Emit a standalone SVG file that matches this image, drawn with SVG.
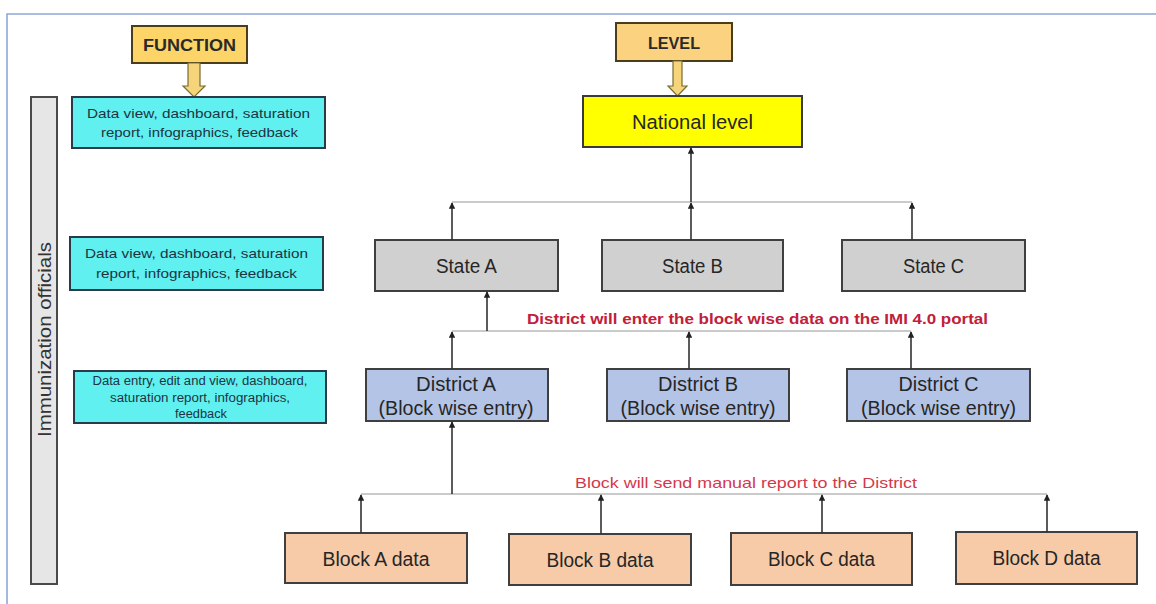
<svg xmlns="http://www.w3.org/2000/svg" width="1156" height="604" viewBox="0 0 1156 604">
<style>
text{font-family:"Liberation Sans",Arial,sans-serif;}
.hdr{fill:#FCD467;stroke:#4a3e1a;stroke-width:2;}
.hdrt{font-size:17px;font-weight:bold;fill:#2a2a2a;text-anchor:middle;}
.fn{fill:#60F0F0;stroke:#2a3a48;stroke-width:2;}
.fnt{font-size:13px;fill:#1e3442;text-anchor:middle;}
.fnts{font-size:12px;fill:#1e3442;text-anchor:middle;}
.nat{fill:#FFFF00;stroke:#3a3a3a;stroke-width:2;}
.st{fill:#D0D0D0;stroke:#3f3f3f;stroke-width:2;}
.di{fill:#B4C4E6;stroke:#3f3f3f;stroke-width:2;}
.bl{fill:#F8CBA8;stroke:#3f3f3f;stroke-width:2;}
.nt{font-size:19.5px;fill:#262626;text-anchor:middle;}
.stem{stroke:#333;stroke-width:1.6;fill:none;marker-end:url(#ah);}
.hl{stroke:#b8b8b8;stroke-width:1.6;fill:none;}
.barrow{fill:#F5D47A;stroke:#7a6a30;stroke-width:1.2;}
</style>
<defs>
<marker id="ah" viewBox="0 0 10 10" refX="9" refY="5" markerWidth="4" markerHeight="4" orient="auto" markerUnits="strokeWidth">
<path d="M0,0 L10,5 L0,10 z" fill="#222"/>
</marker>
</defs>
<rect width="1156" height="604" fill="#ffffff"/>
<path d="M7,604 V14 H1156" fill="none" stroke="#8ea6d6" stroke-width="1.6"/>

<g id="function-header">
<rect class="hdr" x="132" y="26" width="115" height="37"/>
<text class="hdrt" x="189.5" y="50.5" textLength="93" lengthAdjust="spacingAndGlyphs">FUNCTION</text>
<path class="barrow" d="M188,63 H200 V86 H205 L194,97 L183,86 H188 Z"/>
</g>

<g id="level-header">
<rect class="hdr" x="616" y="23" width="116" height="38" style="fill:#FBD27F"/>
<text class="hdrt" x="674" y="48.5" textLength="52" lengthAdjust="spacingAndGlyphs">LEVEL</text>
<path class="barrow" d="M673,61 H682 V86 H687 L677.5,96 L668,86 H673 Z"/>
</g>

<g id="immunization-officials">
<rect x="31" y="97" width="26" height="487" fill="#E6E6E6" stroke="#4a4a4a" stroke-width="2"/>
<text transform="translate(51,339.5) rotate(-90)" font-size="18" fill="#333" text-anchor="middle" textLength="195" lengthAdjust="spacingAndGlyphs">Immunization officials</text>
</g>

<g id="function-national">
<rect class="fn" x="72" y="97" width="253" height="51"/>
<text class="fnt" x="198.5" y="118" textLength="223" lengthAdjust="spacingAndGlyphs">Data view, dashboard, saturation</text>
<text class="fnt" x="199.5" y="137" textLength="197" lengthAdjust="spacingAndGlyphs">report, infographics, feedback</text>
</g>

<g id="function-state">
<rect class="fn" x="70" y="237" width="253" height="53"/>
<text class="fnt" x="196.5" y="258" textLength="223" lengthAdjust="spacingAndGlyphs">Data view, dashboard, saturation</text>
<text class="fnt" x="196.5" y="278" textLength="201" lengthAdjust="spacingAndGlyphs">report, infographics, feedback</text>
</g>

<g id="function-district">
<rect class="fn" x="74" y="371" width="252" height="52"/>
<text class="fnts" x="200" y="385" textLength="215" lengthAdjust="spacingAndGlyphs">Data entry, edit and view, dashboard,</text>
<text class="fnts" x="200" y="402" textLength="180" lengthAdjust="spacingAndGlyphs">saturation report, infographics,</text>
<text class="fnts" x="201" y="418" textLength="52" lengthAdjust="spacingAndGlyphs">feedback</text>
</g>

<g id="national">
<rect class="nat" x="583" y="96" width="219" height="51"/>
<text class="nt" x="692.5" y="129" style="font-size:20.5px" textLength="121" lengthAdjust="spacingAndGlyphs">National level</text>
</g>

<g id="state-a">
<rect class="st" x="375" y="240" width="183" height="51"/>
<text class="nt" x="466.5" y="273" textLength="61" lengthAdjust="spacingAndGlyphs">State A</text>
</g>
<g id="state-b">
<rect class="st" x="602" y="240" width="181" height="51"/>
<text class="nt" x="692.5" y="273" textLength="61" lengthAdjust="spacingAndGlyphs">State B</text>
</g>
<g id="state-c">
<rect class="st" x="842" y="240" width="183" height="51"/>
<text class="nt" x="933.5" y="273" textLength="61" lengthAdjust="spacingAndGlyphs">State C</text>
</g>

<g id="district-a">
<rect class="di" x="366" y="369" width="182" height="52"/>
<text class="nt" x="456" y="391" textLength="80" lengthAdjust="spacingAndGlyphs">District A</text>
<text class="nt" x="456" y="415" textLength="155" lengthAdjust="spacingAndGlyphs">(Block wise entry)</text>
</g>
<g id="district-b">
<rect class="di" x="607" y="369" width="182" height="52"/>
<text class="nt" x="698" y="391" textLength="80" lengthAdjust="spacingAndGlyphs">District B</text>
<text class="nt" x="698" y="415" textLength="155" lengthAdjust="spacingAndGlyphs">(Block wise entry)</text>
</g>
<g id="district-c">
<rect class="di" x="847" y="369" width="183" height="52"/>
<text class="nt" x="938.5" y="391" textLength="80" lengthAdjust="spacingAndGlyphs">District C</text>
<text class="nt" x="938.5" y="415" textLength="155" lengthAdjust="spacingAndGlyphs">(Block wise entry)</text>
</g>

<g id="block-a">
<rect class="bl" x="285" y="533" width="182" height="50"/>
<text class="nt" x="376" y="565.5" textLength="107" lengthAdjust="spacingAndGlyphs">Block A data</text>
</g>
<g id="block-b">
<rect class="bl" x="509" y="534" width="182" height="51"/>
<text class="nt" x="600" y="566.5" textLength="107" lengthAdjust="spacingAndGlyphs">Block B data</text>
</g>
<g id="block-c">
<rect class="bl" x="731" y="533" width="181" height="52"/>
<text class="nt" x="821.5" y="565.5" textLength="107" lengthAdjust="spacingAndGlyphs">Block C data</text>
</g>
<g id="block-d">
<rect class="bl" x="956" y="532" width="181" height="52"/>
<text class="nt" x="1046.5" y="564.5" textLength="108" lengthAdjust="spacingAndGlyphs">Block D data</text>
</g>

<g id="connectors">
<line class="hl" x1="452" y1="202" x2="912" y2="202"/>
<line class="stem" x1="691" y1="202" x2="691" y2="148"/>
<line class="stem" x1="452" y1="240" x2="452" y2="203"/>
<line class="stem" x1="691" y1="240" x2="691" y2="203"/>
<line class="stem" x1="912" y1="240" x2="912" y2="203"/>

<line class="hl" x1="452" y1="331" x2="911" y2="331"/>
<line class="stem" x1="487" y1="331" x2="487" y2="292"/>
<line class="stem" x1="452" y1="369" x2="452" y2="332"/>
<line class="stem" x1="689" y1="369" x2="689" y2="332"/>
<line class="stem" x1="911" y1="369" x2="911" y2="332"/>

<line class="hl" x1="361" y1="494" x2="1047" y2="494"/>
<line class="stem" x1="452" y1="494" x2="452" y2="422"/>
<line class="stem" x1="361" y1="533" x2="361" y2="495"/>
<line class="stem" x1="601" y1="534" x2="601" y2="495"/>
<line class="stem" x1="822" y1="533" x2="822" y2="495"/>
<line class="stem" x1="1047" y1="532" x2="1047" y2="495"/>

<text x="527" y="324" font-size="15.5" font-weight="bold" fill="#C0203A" textLength="461" lengthAdjust="spacingAndGlyphs">District will enter the block wise data on the IMI 4.0 portal</text>
<text x="575" y="488" font-size="15" fill="#D4384C" textLength="342" lengthAdjust="spacingAndGlyphs">Block will send manual report to the District</text>
</g>
</svg>
